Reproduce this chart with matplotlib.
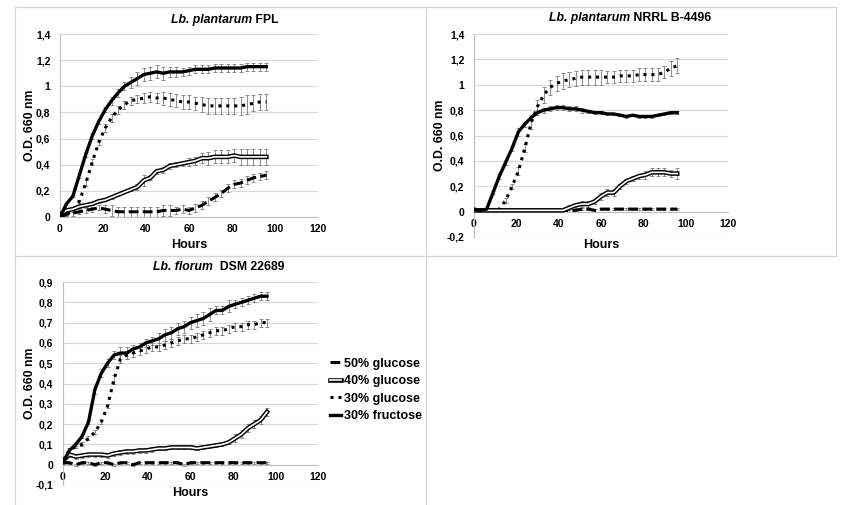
import matplotlib
matplotlib.use('Agg')
import matplotlib.pyplot as plt
from matplotlib.lines import Line2D
from matplotlib.ticker import FuncFormatter, MultipleLocator

plt.rcParams['font.family'] = ['Liberation Sans', 'DejaVu Sans']
plt.rcParams['font.weight'] = 'bold'

# sampling times (h)
hours = [0, 3, 6, 9, 12, 15, 18, 21, 24, 27, 30, 33, 36, 39, 42, 45, 48,
         51, 54, 57, 60, 63, 66, 69, 72, 75, 78, 81, 84, 87, 90, 93, 96]

labels = ['50% glucose', '40% glucose', '30% glucose', '30% fructose']

# Lb. plantarum FPL
fpl_g50 = [0.00, 0.02, 0.03, 0.04, 0.05, 0.06, 0.07, 0.06, 0.05, 0.04, 0.04, 0.04, 0.04, 0.04, 0.04, 0.04, 0.05,
           0.05, 0.05, 0.06, 0.05, 0.07, 0.09, 0.12, 0.15, 0.18, 0.22, 0.25, 0.26, 0.28, 0.30, 0.31, 0.32]
fpl_g50_err = [0.01, 0.01, 0.02, 0.02, 0.02, 0.02, 0.02, 0.03, 0.04, 0.04, 0.04, 0.04, 0.04, 0.04, 0.04, 0.04, 0.04,
               0.04, 0.03, 0.03, 0.03, 0.03, 0.03, 0.03, 0.03, 0.03, 0.03, 0.03, 0.03, 0.03, 0.03, 0.03, 0.03]
fpl_g40 = [0.02, 0.05, 0.06, 0.08, 0.09, 0.10, 0.12, 0.13, 0.15, 0.17, 0.19, 0.21, 0.23, 0.28, 0.30, 0.35, 0.36,
           0.39, 0.40, 0.41, 0.42, 0.43, 0.45, 0.45, 0.46, 0.46, 0.46, 0.47, 0.46, 0.46, 0.46, 0.46, 0.46]
fpl_g40_err = [0.01, 0.01, 0.01, 0.01, 0.01, 0.01, 0.01, 0.01, 0.01, 0.01, 0.01, 0.01, 0.02, 0.04, 0.02, 0.02, 0.02,
               0.02, 0.02, 0.02, 0.03, 0.03, 0.04, 0.05, 0.05, 0.05, 0.05, 0.05, 0.06, 0.06, 0.06, 0.06, 0.06]
fpl_g30 = [0.00, 0.02, 0.05, 0.12, 0.26, 0.42, 0.57, 0.68, 0.76, 0.82, 0.86, 0.89, 0.90, 0.91, 0.92, 0.91, 0.91,
           0.90, 0.89, 0.88, 0.88, 0.87, 0.86, 0.85, 0.85, 0.85, 0.85, 0.85, 0.85, 0.86, 0.87, 0.88, 0.88]
fpl_g30_err = [0.01, 0.01, 0.01, 0.01, 0.02, 0.02, 0.02, 0.03, 0.03, 0.03, 0.03, 0.03, 0.03, 0.04, 0.04, 0.04, 0.05,
               0.05, 0.05, 0.05, 0.05, 0.05, 0.06, 0.06, 0.06, 0.06, 0.06, 0.06, 0.07, 0.07, 0.06, 0.06, 0.06]
fpl_f30 = [0.00, 0.10, 0.16, 0.32, 0.48, 0.62, 0.73, 0.82, 0.89, 0.95, 1.00, 1.03, 1.06, 1.09, 1.10, 1.11, 1.10,
           1.11, 1.11, 1.11, 1.12, 1.13, 1.13, 1.13, 1.14, 1.14, 1.14, 1.14, 1.14, 1.15, 1.15, 1.15, 1.15]
fpl_f30_err = [0.01, 0.01, 0.01, 0.02, 0.02, 0.02, 0.02, 0.02, 0.03, 0.03, 0.03, 0.04, 0.05, 0.05, 0.05, 0.05, 0.05,
               0.04, 0.04, 0.03, 0.03, 0.03, 0.03, 0.03, 0.03, 0.03, 0.03, 0.03, 0.03, 0.03, 0.03, 0.03, 0.03]

# Lb. plantarum NRRL B-4496
nrrl_g50 = [0.01, 0.01, 0.01, 0.01, 0.01, 0.01, 0.01, 0.01, 0.01, 0.01, 0.01, 0.01, 0.01, 0.01, 0.01, 0.01, 0.01,
            0.02, 0.02, 0.01, 0.02, 0.02, 0.02, 0.02, 0.02, 0.02, 0.02, 0.02, 0.02, 0.02, 0.02, 0.02, 0.02]
nrrl_g50_err = [0.01, 0.01, 0.01, 0.01, 0.01, 0.01, 0.01, 0.01, 0.01, 0.01, 0.01, 0.01, 0.01, 0.01, 0.01, 0.01, 0.01,
                0.01, 0.01, 0.01, 0.01, 0.01, 0.01, 0.01, 0.01, 0.01, 0.01, 0.01, 0.01, 0.01, 0.01, 0.01, 0.01]
nrrl_g40 = [0.01, 0.01, 0.01, 0.01, 0.01, 0.01, 0.01, 0.01, 0.01, 0.01, 0.01, 0.01, 0.01, 0.01, 0.01, 0.03, 0.05,
            0.06, 0.06, 0.08, 0.12, 0.15, 0.15, 0.20, 0.24, 0.26, 0.28, 0.29, 0.31, 0.31, 0.31, 0.30, 0.30]
nrrl_g40_err = [0.01, 0.01, 0.01, 0.01, 0.01, 0.01, 0.01, 0.01, 0.01, 0.01, 0.01, 0.01, 0.01, 0.01, 0.01, 0.02, 0.02,
                0.02, 0.02, 0.02, 0.03, 0.03, 0.03, 0.02, 0.02, 0.02, 0.02, 0.03, 0.03, 0.03, 0.03, 0.03, 0.04]
nrrl_g30 = [0.01, 0.01, 0.01, 0.01, 0.02, 0.09, 0.20, 0.32, 0.50, 0.70, 0.83, 0.92, 0.98, 1.01, 1.03, 1.04, 1.05,
            1.06, 1.06, 1.06, 1.06, 1.06, 1.06, 1.07, 1.07, 1.07, 1.08, 1.08, 1.08, 1.08, 1.10, 1.13, 1.15]
nrrl_g30_err = [0.01, 0.01, 0.01, 0.01, 0.01, 0.02, 0.02, 0.03, 0.03, 0.05, 0.05, 0.06, 0.06, 0.06, 0.06, 0.06, 0.06,
                0.06, 0.06, 0.06, 0.06, 0.05, 0.05, 0.05, 0.05, 0.05, 0.05, 0.05, 0.05, 0.05, 0.05, 0.06, 0.06]
nrrl_f30 = [0.02, 0.01, 0.02, 0.15, 0.28, 0.39, 0.50, 0.63, 0.69, 0.74, 0.78, 0.80, 0.81, 0.82, 0.82, 0.81, 0.81,
            0.80, 0.79, 0.78, 0.78, 0.77, 0.77, 0.76, 0.75, 0.76, 0.75, 0.75, 0.75, 0.76, 0.77, 0.78, 0.78]
nrrl_f30_err = [0.01, 0.01, 0.01, 0.01, 0.02, 0.02, 0.02, 0.03, 0.02, 0.02, 0.02, 0.02, 0.02, 0.02, 0.02, 0.02, 0.02,
                0.02, 0.01, 0.01, 0.01, 0.01, 0.01, 0.01, 0.01, 0.01, 0.01, 0.01, 0.01, 0.01, 0.01, 0.01, 0.01]

# Lb. florum DSM 22689
dsm_g50 = [0.01, 0.01, 0.00, 0.01, 0.01, 0.00, 0.01, 0.01, 0.00, 0.01, 0.01, 0.00, 0.01, 0.01, 0.01, 0.01, 0.01,
           0.01, 0.01, 0.00, 0.01, 0.01, 0.01, 0.01, 0.01, 0.01, 0.01, 0.01, 0.01, 0.01, 0.01, 0.01, 0.01]
dsm_g50_err = [0.005, 0.005, 0.005, 0.005, 0.005, 0.005, 0.005, 0.005, 0.005, 0.005, 0.005, 0.005, 0.005, 0.005,
               0.005, 0.005, 0.005, 0.005, 0.005, 0.005, 0.005, 0.005, 0.005, 0.005, 0.005, 0.005, 0.005, 0.005,
               0.005, 0.005, 0.005, 0.005, 0.005]
dsm_g40 = [0.02, 0.05, 0.04, 0.045, 0.05, 0.05, 0.05, 0.045, 0.055, 0.06, 0.065, 0.065, 0.07, 0.07, 0.075, 0.08, 0.08,
           0.085, 0.085, 0.085, 0.085, 0.08, 0.085, 0.09, 0.095, 0.10, 0.11, 0.13, 0.15, 0.18, 0.20, 0.22, 0.26]
dsm_g40_err = [0.005, 0.01, 0.01, 0.01, 0.01, 0.01, 0.01, 0.01, 0.01, 0.01, 0.01, 0.01, 0.01, 0.01, 0.01, 0.01, 0.01,
               0.01, 0.01, 0.01, 0.01, 0.01, 0.01, 0.01, 0.01, 0.01, 0.01, 0.02, 0.02, 0.02, 0.02, 0.02, 0.02]
dsm_g30 = [0.02, 0.07, 0.09, 0.10, 0.13, 0.16, 0.21, 0.29, 0.42, 0.52, 0.54, 0.55, 0.56, 0.57, 0.58, 0.58, 0.59,
           0.60, 0.61, 0.62, 0.62, 0.63, 0.64, 0.65, 0.66, 0.66, 0.67, 0.68, 0.68, 0.69, 0.69, 0.70, 0.70]
dsm_g30_err = [0.005, 0.01, 0.01, 0.01, 0.01, 0.01, 0.01, 0.01, 0.02, 0.02, 0.02, 0.02, 0.02, 0.02, 0.02, 0.02, 0.02,
               0.02, 0.02, 0.02, 0.02, 0.02, 0.02, 0.02, 0.02, 0.02, 0.02, 0.02, 0.02, 0.02, 0.02, 0.02, 0.02]
dsm_f30 = [0.01, 0.07, 0.10, 0.14, 0.21, 0.37, 0.45, 0.50, 0.54, 0.55, 0.55, 0.57, 0.58, 0.60, 0.61, 0.62, 0.64,
           0.65, 0.67, 0.68, 0.70, 0.71, 0.72, 0.74, 0.76, 0.76, 0.78, 0.79, 0.80, 0.81, 0.82, 0.83, 0.83]
dsm_f30_err = [0.005, 0.01, 0.01, 0.01, 0.01, 0.02, 0.02, 0.02, 0.02, 0.03, 0.03, 0.02, 0.02, 0.02, 0.02, 0.03, 0.03,
               0.03, 0.03, 0.03, 0.03, 0.03, 0.03, 0.03, 0.02, 0.02, 0.03, 0.02, 0.02, 0.02, 0.02, 0.02, 0.02]

W, H = 853, 505
fig = plt.figure(figsize=(W / 100, H / 100), dpi=100)


def px_rect(x0, y0, x1, y1):
    # pixel box (top-left origin) -> figure fraction
    return [x0 / W, 1 - y1 / H, (x1 - x0) / W, (y1 - y0) / H]


def comma(v, pos):
    s = ('%.1f' % v).rstrip('0').rstrip('.')
    return s.replace('.', ',')


def panel(rect, series, ymin, ymax, ystep):
    ax = fig.add_axes(px_rect(*rect))
    g50, g50_err, g40, g40_err, g30, g30_err, f30, f30_err = series
    for vals, err in [(g50, g50_err), (g40, g40_err), (g30, g30_err), (f30, f30_err)]:
        ax.errorbar(hours, vals, yerr=err, fmt='none', ecolor='#7a7a7a', elinewidth=0.6,
                    capsize=1.5, capthick=0.6, zorder=2)
    ax.plot(hours, g50, color='black', lw=2.2, dashes=(3.2, 1.4), dash_capstyle='butt', zorder=3)
    ax.plot(hours, g40, color='black', lw=3.3, zorder=3)
    ax.plot(hours, g40, color='white', lw=1.2, zorder=4)
    ax.plot(hours, g30, color='black', lw=2.2, dashes=(1, 1.6), dash_capstyle='butt', zorder=3)
    ax.plot(hours, f30, color='black', lw=2.4, zorder=5)

    ax.set_xlim(0, 120)
    ax.set_ylim(ymin, ymax)
    ax.xaxis.set_major_locator(MultipleLocator(20))
    ax.yaxis.set_major_locator(MultipleLocator(ystep))
    ax.xaxis.set_major_formatter(FuncFormatter(comma))
    ax.yaxis.set_major_formatter(FuncFormatter(comma))
    ax.grid(axis='y', color='#d9d9d9', lw=0.8)
    ax.set_axisbelow(True)
    ax.patch.set_alpha(0)
    ax.spines['top'].set_visible(False)
    ax.spines['right'].set_visible(False)
    ax.spines['bottom'].set_position(('data', 0))
    ax.spines['left'].set_color('#bfbfbf')
    ax.spines['bottom'].set_color('#bfbfbf')
    ax.tick_params(axis='y', length=0, labelsize=7.5, pad=7)
    ax.tick_params(axis='x', length=0, labelsize=7.5, pad=5)
    return ax


def title(ax, x_end, y, italic, rest):
    t = fig.text(x_end / W, 1 - y / H, italic, style='italic', ha='right', va='center', fontsize=8.8)
    ax.annotate(rest, xy=(1, 0), xycoords=t, ha='left', va='bottom', fontsize=8.8, annotation_clip=False)


def labels_for(rect, ylab_x, xlab_y):
    x0, y0, x1, y1 = rect
    fig.text(ylab_x / W, 1 - (y0 + y1) / 2 / H, 'O.D. 660 nm', rotation=90, ha='center', va='center', fontsize=8.8)
    fig.text((x0 + x1) / 2 / W, 1 - xlab_y / H, 'Hours', ha='center', va='center', fontsize=9)


# panel frames
frame_kw = dict(color='#d4d4d4', lw=0.9)
for (xa, ya, xb, yb) in [(15, 7, 426, 7), (426, 7, 836, 7), (15, 256, 836, 256),
                         (15, 7, 15, 505), (426, 7, 426, 505), (836, 7, 836, 256)]:
    fig.add_artist(Line2D([xa / W, xb / W], [1 - ya / H, 1 - yb / H], **frame_kw))

r1 = (60, 34, 318, 217)
ax1 = panel(r1, (fpl_g50, fpl_g50_err, fpl_g40, fpl_g40_err, fpl_g30, fpl_g30_err, fpl_f30, fpl_f30_err), 0, 1.4, 0.2)
title(ax1, 252, 20, 'Lb. plantarum', ' FPL')
labels_for(r1, 30, 245)

r2 = (474, 34, 728, 237)
ax2 = panel(r2, (nrrl_g50, nrrl_g50_err, nrrl_g40, nrrl_g40_err, nrrl_g30, nrrl_g30_err, nrrl_f30, nrrl_f30_err), -0.2, 1.4, 0.2)
title(ax2, 630, 18, 'Lb. plantarum', ' NRRL B-4496')
labels_for(r2, 440, 245)

r3 = (63, 282, 318, 485)
ax3 = panel(r3, (dsm_g50, dsm_g50_err, dsm_g40, dsm_g40_err, dsm_g30, dsm_g30_err, dsm_f30, dsm_f30_err), -0.1, 0.9, 0.1)
title(ax3, 213, 267, 'Lb. florum', '  DSM 22689')
labels_for(r3, 30, 493)

# legend
handles = [Line2D([], [], color='black', lw=2.2, dashes=(3.2, 1.4), dash_capstyle='butt'),
           (Line2D([], [], color='black', lw=3.3), Line2D([], [], color='white', lw=1.2)),
           Line2D([], [], color='black', lw=2.2, dashes=(1, 1.6), dash_capstyle='butt'),
           Line2D([], [], color='black', lw=2.4)]
fig.legend(handles, labels, loc='center left', bbox_to_anchor=(330 / W, 1 - 390 / H), frameon=False,
           fontsize=9, handlelength=0.9, handletextpad=0.25, labelspacing=0.45, borderpad=0, borderaxespad=0)

fig.savefig('out.png', dpi=100)
